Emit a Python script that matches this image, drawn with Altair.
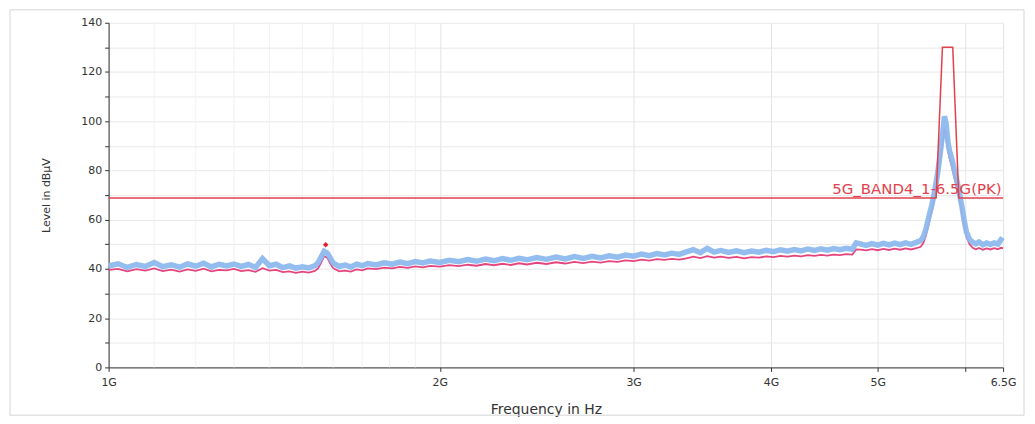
import altair as alt
import pandas as pd

# ---------------- data ----------------
freq_ghz = [
    1.00, 1.02, 1.04, 1.06, 1.08, 1.10, 1.12, 1.14, 1.16, 1.18,
    1.20, 1.22, 1.24, 1.26, 1.28, 1.30, 1.32, 1.34, 1.36, 1.38,
    1.40, 1.42, 1.44, 1.46, 1.48, 1.50, 1.52, 1.54, 1.55, 1.56,
    1.57, 1.58, 1.59, 1.60, 1.62, 1.64, 1.66, 1.68, 1.70, 1.72,
    1.75, 1.78, 1.81, 1.84, 1.87, 1.90, 1.93, 1.96, 2.00, 2.04,
    2.08, 2.12, 2.16, 2.20, 2.24, 2.28, 2.32, 2.36, 2.40, 2.45,
    2.50, 2.55, 2.60, 2.65, 2.70, 2.75, 2.80, 2.85, 2.90, 2.95,
    3.00, 3.05, 3.10, 3.15, 3.20, 3.25, 3.30, 3.35, 3.40, 3.45,
    3.50, 3.55, 3.60, 3.66, 3.72, 3.78, 3.84, 3.90, 3.96, 4.02,
    4.08, 4.14, 4.20, 4.26, 4.32, 4.38, 4.44, 4.50, 4.56, 4.62,
    4.68, 4.74, 4.78, 4.82, 4.88, 4.94, 5.00, 5.06, 5.12, 5.18,
    5.24, 5.30, 5.36, 5.42, 5.47, 5.50, 5.53, 5.56, 5.60, 5.63,
    5.66, 5.69, 5.72, 5.75, 5.77, 5.79, 5.81, 5.84, 5.87, 5.90,
    5.93, 5.96, 5.99, 6.02, 6.06, 6.10, 6.14, 6.18, 6.23, 6.28,
    6.33, 6.38, 6.43, 6.47, 6.50,
]

pk_level = [
    41.2, 42.1, 40.6, 41.8, 41.0, 42.6, 40.9, 41.7, 40.7, 42.0,
    41.1, 42.3, 40.8, 41.9, 41.2, 42.0, 41.0, 41.8, 40.6, 44.2,
    41.3, 41.9, 40.5, 41.2, 40.3, 40.9, 40.4, 41.3, 42.5, 44.8,
    47.2, 46.5, 44.5, 42.4, 41.0, 41.6, 40.8, 41.9, 41.3, 42.2,
    41.6, 42.5, 41.9, 42.8, 42.1, 43.0, 42.4, 43.2, 42.6, 43.5,
    42.9, 43.8, 43.1, 44.0, 43.3, 44.2, 43.5, 44.3, 43.7, 44.6,
    43.9, 44.8, 44.1, 45.0, 44.3, 45.1, 44.5, 45.3, 44.8, 45.6,
    45.2, 46.0, 45.4, 46.2, 45.7, 46.4, 45.9, 46.9, 47.8, 46.6,
    48.3, 46.8, 47.5, 46.7, 47.4, 46.6, 47.3, 46.8, 47.6, 47.0,
    47.8, 47.2, 47.9, 47.3, 48.1, 47.5, 48.2, 47.6, 48.3, 47.8,
    48.4, 48.0, 50.6, 50.2, 49.6, 50.3, 49.7, 50.4, 49.8, 50.5,
    49.9, 50.6, 50.0, 50.8, 51.5, 53.0, 56.0, 60.5, 66.0, 71.0,
    77.0, 84.5, 93.0, 102.0, 99.0, 92.0, 88.0, 84.5, 80.0, 76.0,
    71.0, 66.0, 60.0, 55.0, 52.0, 50.8, 50.2, 50.9, 49.8, 50.5,
    49.9, 50.6, 50.1, 51.8, 51.2,
]

av_level = [
    39.6, 40.0, 39.0, 39.9, 39.3, 40.2, 39.1, 39.7, 38.9, 39.8,
    39.2, 40.1, 39.0, 39.6, 39.4, 40.0, 39.1, 39.5, 38.8, 40.3,
    39.3, 39.6, 38.7, 39.0, 38.4, 38.9, 38.5, 39.2, 40.2, 42.5,
    45.2, 44.6, 42.3, 40.3, 39.0, 39.3, 38.9, 39.8, 39.4, 40.2,
    39.9, 40.5, 40.2, 40.8, 40.4, 41.0, 40.6, 41.2, 40.9, 41.5,
    41.1, 41.7, 41.3, 42.0, 41.5, 42.1, 41.6, 42.3, 41.8, 42.5,
    42.0, 42.7, 42.2, 42.9, 42.4, 43.0, 42.6, 43.2, 42.9, 43.5,
    43.2, 43.8, 43.4, 44.0, 43.7, 44.1, 43.8, 44.3, 45.0, 44.4,
    45.2, 44.6, 45.0, 44.5, 44.9, 44.3, 44.8, 44.6, 45.1, 44.8,
    45.3, 45.0, 45.4, 45.1, 45.6, 45.3, 45.7, 45.4, 45.8, 45.6,
    46.0, 45.8, 47.9, 47.8, 47.5, 48.0, 47.6, 48.1, 47.7, 48.2,
    47.8, 48.3, 47.9, 48.4, 49.0, 50.5, 53.5, 58.0, 63.5, 68.5,
    74.5, 81.5, 89.5, 97.0, 95.0, 88.5, 85.0, 81.5, 77.0, 73.0,
    68.5, 63.5, 58.0, 53.0, 50.0, 48.6, 48.0, 48.5, 47.8, 48.3,
    47.9, 48.4, 48.0, 48.6, 48.4,
]

limit_freq = [1.0, 5.65, 5.725, 5.85, 5.925, 6.5]
limit_level = [68.8, 68.8, 130.0, 130.0, 68.8, 68.8]
limit_name = ["5G_BAND4_1-6.5G(PK)"]

marker_freq = [1.575]
marker_level = [49.8]

x_ticks = [1, 2, 3, 4, 5, 6, 6.5]
x_minor_grid = [1.1, 1.2, 1.3, 1.4, 1.5, 1.6, 1.7, 1.8, 1.9]
y_ticks = [0, 10, 20, 30, 40, 50, 60, 70, 80, 90, 100, 110, 120, 130, 140]

# ---------------- tables ----------------
traces = pd.DataFrame({"f": freq_ghz, "pk": pk_level, "av": av_level})
limit_df = pd.DataFrame({"f": limit_freq, "lvl": limit_level})
label_df = pd.DataFrame({"f": [limit_freq[-1] - 0.02], "lvl": [limit_level[-1]], "t": limit_name})
marker_df = pd.DataFrame({"f": marker_freq, "lvl": marker_level})
minor_df = pd.DataFrame({"f": x_minor_grid})
frame_df = pd.DataFrame({"a": [0]})

FONT = "DejaVu Sans"
W, H = 898, 346

xscale = alt.Scale(type="log", domain=[1, 6.5], nice=False)
yscale = alt.Scale(domain=[0, 140], nice=False)

x_axis = alt.Axis(
    values=x_ticks,
    labelExpr="datum.value == 6 ? '' : datum.value + 'G'",
    title="Frequency in Hz",
    titleX=439, titleY=42, titleBaseline="middle", titleAlign="center",
    titleFont=FONT, titleFontSize=14, titleFontWeight="normal", titleColor="#333333",
    labelFont=FONT, labelFontSize=11, labelColor="#333333", labelPadding=5,
    tickSize=4, tickColor="#333333", domainColor="#333333", domainWidth=1,
    grid=True, gridColor="#e4e4e4", labelFlush=False, labelOverlap=False,
)
y_axis = alt.Axis(
    values=y_ticks,
    labelExpr="datum.value % 20 == 0 ? datum.label : ''",
    title="Level in dBµV",
    titleX=-62, titleY=H / 2, titleBaseline="middle", titleAlign="center", titleAngle=270,
    titleFont=FONT, titleFontSize=11, titleFontWeight="normal", titleColor="#333333",
    labelFont=FONT, labelFontSize=11, labelColor="#333333", labelPadding=3,
    tickSize=4, tickColor="#333333", domainColor="#333333", domainWidth=1,
    grid=True, gridColor="#e8e8e8", labelOverlap=False,
)

minor = alt.Chart(minor_df).mark_rule(color="#f1f1f1", strokeWidth=1).encode(
    x=alt.X("f:Q", scale=xscale, axis=x_axis)
)

av_line = alt.Chart(traces).mark_line(color="#e5457e", strokeWidth=1.8).encode(
    x=alt.X("f:Q", scale=xscale, axis=x_axis),
    y=alt.Y("av:Q", scale=yscale, axis=y_axis),
)
pk_line = alt.Chart(traces).mark_line(color="#8db8ee", strokeWidth=5.5, opacity=0.95).encode(
    x=alt.X("f:Q", scale=xscale, axis=x_axis),
    y=alt.Y("pk:Q", scale=yscale, axis=y_axis),
)
limit_line = alt.Chart(limit_df).mark_line(color="#e2414c", strokeWidth=1.5).encode(
    x=alt.X("f:Q", scale=xscale, axis=x_axis),
    y=alt.Y("lvl:Q", scale=yscale, axis=y_axis),
)
limit_label = alt.Chart(label_df).mark_text(
    align="right", baseline="bottom", dy=-1, font=FONT, fontSize=15, color="#e2414c"
).encode(
    x=alt.X("f:Q", scale=xscale, axis=x_axis),
    y=alt.Y("lvl:Q", scale=yscale, axis=y_axis),
    text="t:N",
)
marker = alt.Chart(marker_df).mark_point(
    shape="diamond", filled=True, size=30, color="#e02030", opacity=1
).encode(
    x=alt.X("f:Q", scale=xscale, axis=x_axis),
    y=alt.Y("lvl:Q", scale=yscale, axis=y_axis),
)
frame = alt.Chart(frame_df).mark_rect(fill=None, stroke="#d6d6d6", strokeWidth=1).encode(
    x=alt.value(-99), x2=alt.value(W + 21), y=alt.value(-13), y2=alt.value(H + 48)
)

chart = alt.layer(
    minor, av_line, pk_line, limit_line, limit_label, marker, frame
).properties(
    width=W, height=H,
    padding={"left": 101, "top": 14, "right": 24, "bottom": 50},
    autosize=alt.AutoSizeParams(type="none"),
    background="white",
).configure_view(stroke=None)

chart.save("out.html", embed_options={"renderer": "svg", "actions": False})
